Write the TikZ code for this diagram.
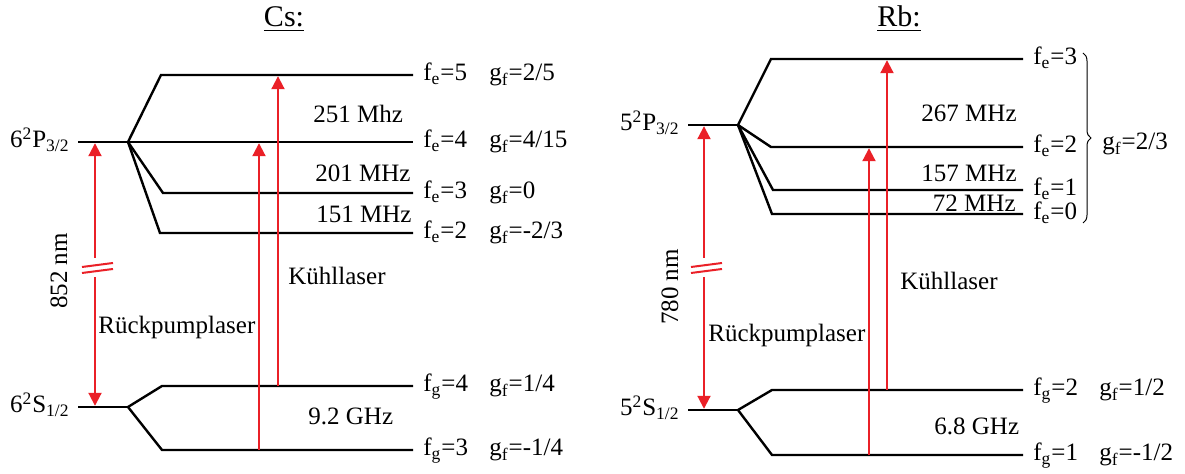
\documentclass[tikz,border=0pt]{standalone}
\usepackage{fontspec}
\setmainfont{Liberation Serif}
\usepackage{tikz}
\usetikzlibrary{arrows.meta, calc, decorations.pathreplacing}
\definecolor{laserred}{RGB}{234,32,39}

\begin{document}
\begin{tikzpicture}[
  x=0.5pt, y=0.5pt,
  every node/.style={font=\fontsize{12.5}{15}\selectfont, inner sep=0pt},
  level/.style={line width=1.2pt, black},
  laser/.style={-{Triangle[length=6.5pt, width=6.5pt]}, line width=1pt, laserred, shorten >=0.6pt},
  cut/.style={line width=1pt, laserred},
  statelabel/.style={anchor=base east, xshift=-4pt, yshift=-3pt},
  flabel/.style={anchor=base west, xshift=5pt, yshift=-3pt},
  glabel/.style={anchor=base west, xshift=38pt, yshift=-3pt},
  title/.style={font=\fontsize{15}{18}\selectfont, anchor=base}
]
  \useasboundingbox (0,0) rectangle (1185,-474);

  % ---------------- Cs ----------------
  \node[title] (cstitle) at (284,-27) {\underline{Cs:}};

  % Cs: excited state
  \draw[level] (78,-142) coordinate (csP) -- (128,-142) coordinate (csPfan);
  \draw[level] (csPfan) -- (161,-75) -- (413,-75) coordinate (csFe5);
  \draw[level] (csPfan) -- (413,-142) coordinate (csFe4);
  \draw[level] (csPfan) -- (163,-193) -- (413,-193) coordinate (csFe3);
  \draw[level] (csPfan) -- (160,-233) -- (413,-233) coordinate (csFe2);
  \node[statelabel] (csPlbl) at (csP) {6\textsuperscript{2}P\textsubscript{3/2}};
  \foreach \lv/\fv/\gv in {csFe5/5/{2/5}, csFe4/4/{4/15}, csFe3/3/0, csFe2/2/{-2/3}} {
    \node[flabel] (\lv-f) at (\lv) {f\textsubscript{e}=\fv};
    \node[glabel] (\lv-g) at (\lv) {g\textsubscript{f}=\gv};
  }
  \node[anchor=base west] (cs251) at (313,-123) {251 Mhz};
  \node[anchor=base west] (cs201) at (315,-182) {201 MHz};
  \node[anchor=base west] (cs151) at (316,-223) {151 MHz};

  % Cs: ground state
  \draw[level] (78,-407) coordinate (csS) -- (128,-407) coordinate (csSfan);
  \draw[level] (csSfan) -- (162,-386) -- (413,-386) coordinate (csFg4);
  \draw[level] (csSfan) -- (162,-450) -- (413,-450) coordinate (csFg3);
  \node[statelabel] (csSlbl) at (csS) {6\textsuperscript{2}S\textsubscript{1/2}};
  \foreach \lv/\fv/\gv in {csFg4/4/{1/4}, csFg3/3/{-1/4}} {
    \node[flabel] (\lv-f) at (\lv) {f\textsubscript{g}=\fv};
    \node[glabel] (\lv-g) at (\lv) {g\textsubscript{f}=\gv};
  }
  \node[anchor=base west] (cs92) at (308,-425) {9.2 GHz};

  % Cs: lasers
  \coordinate (csUp) at (95,-258);
  \coordinate (csDown) at (95,-277);
  \draw[laser] (csUp) -- (csUp |- csP);
  \draw[laser] (csDown) -- (csDown |- csS);
  \draw[cut] (82,-267) -- (113,-263) (82,-273) -- (113,-269);
  \node[rotate=90] (cs852) at (59,-271) {852 nm};
  \coordinate (csRp) at (259,-450);
  \draw[laser] (csRp) -- (csRp |- csFe4);
  \coordinate (csKl) at (278,-386);
  \draw[laser] (csKl) -- (csKl |- csFe5);
  \node[anchor=base west] (csRplbl) at (98,-334) {Rückpumplaser};
  \node[anchor=base west] (csKllbl) at (288,-285) {Kühllaser};

  % ---------------- Rb ----------------
  \node[title] (rbtitle) at (899,-27) {\underline{Rb:}};

  % Rb: excited state
  \draw[level] (688,-125) coordinate (rbP) -- (738,-125) coordinate (rbPfan);
  \draw[level] (rbPfan) -- (771,-59) -- (1023,-59) coordinate (rbFe3);
  \draw[level] (rbPfan) -- (771,-147) -- (1023,-147) coordinate (rbFe2);
  \draw[level] (rbPfan) -- (773,-190) -- (1023,-190) coordinate (rbFe1);
  \draw[level] (rbPfan) -- (772,-214) -- (1023,-214) coordinate (rbFe0);
  \node[statelabel] (rbPlbl) at (rbP) {5\textsuperscript{2}P\textsubscript{3/2}};
  \foreach \lv/\fv in {rbFe3/3, rbFe2/2, rbFe1/1, rbFe0/0} {
    \node[flabel] (\lv-f) at (\lv) {f\textsubscript{e}=\fv};
  }
  \draw[decorate, decoration={brace, amplitude=4pt}, line width=0.5pt]
    (1083,-53) coordinate (rbBrTop) -- (1083,-223) coordinate (rbBrBot);
  \node[anchor=base west] (rbFe-g) at (1102,-150) {g\textsubscript{f}=2/3};
  \node[anchor=base east] (rb267) at (1017,-122) {267 MHz};
  \node[anchor=base east] (rb157) at (1017,-182) {157 MHz};
  \node[anchor=base east] (rb72) at (1016,-212) {72 MHz};

  % Rb: ground state
  \draw[level] (688,-410) coordinate (rbS) -- (738,-410) coordinate (rbSfan);
  \draw[level] (rbSfan) -- (772,-390) -- (1023,-390) coordinate (rbFg2);
  \draw[level] (rbSfan) -- (772,-455) -- (1023,-455) coordinate (rbFg1);
  \node[statelabel] (rbSlbl) at (rbS) {5\textsuperscript{2}S\textsubscript{1/2}};
  \foreach \lv/\fv/\gv in {rbFg2/2/{1/2}, rbFg1/1/{-1/2}} {
    \node[flabel] (\lv-f) at (\lv) {f\textsubscript{g}=\fv};
    \node[glabel] (\lv-g) at (\lv) {g\textsubscript{f}=\gv};
  }
  \node[anchor=base west] (rb68) at (934,-435) {6.8 GHz};

  % Rb: lasers
  \coordinate (rbUp) at (704,-258);
  \coordinate (rbDown) at (704,-277);
  \draw[laser] (rbUp) -- (rbUp |- rbP);
  \draw[laser] (rbDown) -- (rbDown |- rbS);
  \draw[cut] (691,-267) -- (722,-263) (691,-273) -- (722,-269);
  \node[rotate=90] (rb780) at (670,-287) {780 nm};
  \coordinate (rbRp) at (869,-455);
  \draw[laser] (rbRp) -- (rbRp |- rbFe2);
  \coordinate (rbKl) at (887,-390);
  \draw[laser] (rbKl) -- (rbKl |- rbFe3);
  \node[anchor=base west] (rbRplbl) at (708,-342) {Rückpumplaser};
  \node[anchor=base west] (rbKllbl) at (900,-290) {Kühllaser};

\end{tikzpicture}
\end{document}
